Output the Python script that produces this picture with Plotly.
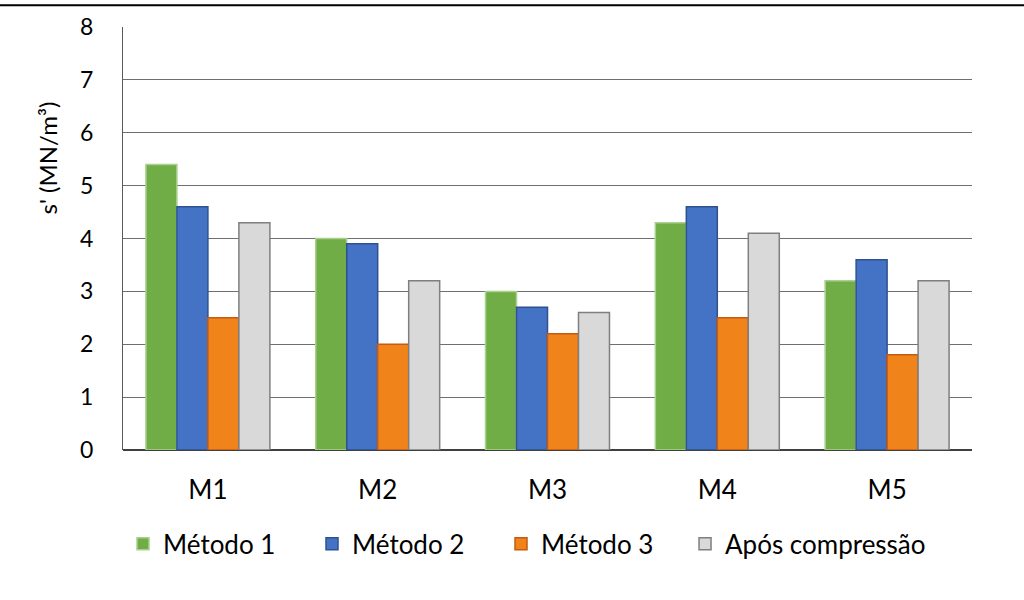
import plotly.graph_objects as go

categories = ["M1", "M2", "M3", "M4", "M5"]
metodo1 = [5.4, 4.0, 3.0, 4.3, 3.2]
metodo2 = [4.6, 3.9, 2.7, 4.6, 3.6]
metodo3 = [2.5, 2.0, 2.2, 2.5, 1.8]
apos = [4.3, 3.2, 2.6, 4.1, 3.2]
y_ticks = [0, 1, 2, 3, 4, 5, 6, 7, 8]

series = [
    ("Método 1", metodo1, "#70AD47", "#A9D18E", "legend"),
    ("Método 2", metodo2, "#4472C4", "#2F528F", "legend"),
    ("Método 3", metodo3, "#F0841A", "#C55A11", "legend"),
    ("Após compressão", apos, "#D9D9D9", "#7F7F7F", "legend2"),
]

fig = go.Figure()
for name, vals, col, line, lg in series:
    fig.add_trace(go.Bar(x=categories, y=vals, name=name, legend=lg,
                         marker=dict(color=col, line=dict(color=line, width=1.5))))

font = "Lato, 'Open Sans', sans-serif"
leg_common = dict(orientation="h", yanchor="middle", y=-0.222, xanchor="left",
                  font=dict(size=26), itemwidth=30, traceorder="normal",
                  bgcolor="rgba(0,0,0,0)")
fig.update_layout(
    width=1024, height=600,
    margin=dict(l=123, r=52, t=22, b=150),
    paper_bgcolor="white", plot_bgcolor="white",
    barmode="group", bargap=0.27, bargroupgap=0,
    font=dict(family=font, size=24, color="#000000"),
    showlegend=True,
    legend=dict(x=0.0, entrywidth=144, entrywidthmode="pixels", **leg_common),
    legend2=dict(x=0.662, **leg_common),
    xaxis=dict(showgrid=False, showline=False, ticks="", tickfont=dict(size=26),
               ticklabelstandoff=22),
    yaxis=dict(range=[0, 8], tickvals=y_ticks, showgrid=True, gridcolor="#6F6F6F",
               gridwidth=1, showline=True, linecolor="#595959", linewidth=1,
               zeroline=True, zerolinecolor="#404040", zerolinewidth=1.5,
               ticks="", tickfont=dict(size=23), ticklabelstandoff=24),
    annotations=[dict(text="s' (MN/m³)", xref="paper", yref="paper",
                      x=(47 - 123) / 849, y=(450 - 155) / 428, xanchor="center",
                      yanchor="middle", textangle=-90, showarrow=False,
                      font=dict(size=24))],
    shapes=[dict(type="line", xref="paper", yref="paper", x0=-0.2, x1=1.1,
                 y0=1.0514, y1=1.0514, line=dict(color="black", width=2))],
)

fig.write_html("out.html")
